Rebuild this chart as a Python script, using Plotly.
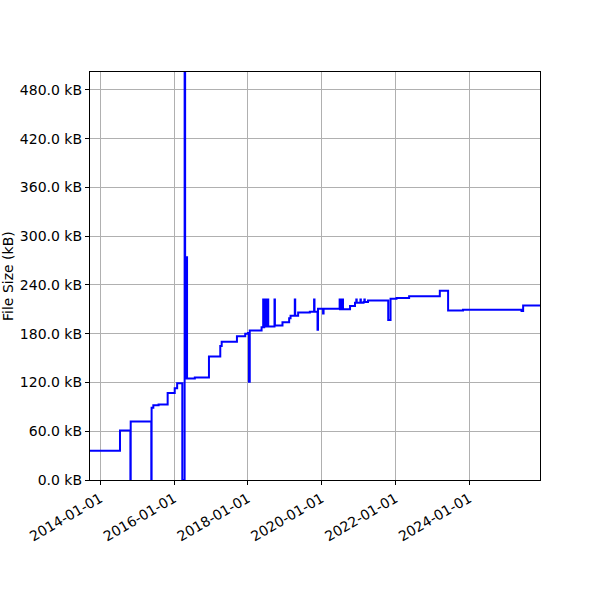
import plotly.graph_objects as go

dates = [
    "2013-09-21", "2014-07-15", "2014-10-26", "2014-10-29", "2015-05-21", "2015-05-24",
    "2015-06-10", "2015-08-01", "2015-10-30", "2016-01-08", "2016-02-01",
    "2016-03-23", "2016-04-15", "2016-04-20", "2016-05-05", "2016-05-09",
    "2016-07-25", "2016-12-12", "2017-04-03", "2017-04-17", "2017-09-15", "2017-12-06",
    "2018-01-02", "2018-01-12", "2018-01-20", "2018-05-17",
    "2018-06-02", "2018-06-05", "2018-06-12", "2018-06-15", "2018-06-22", "2018-06-25",
    "2018-07-02", "2018-07-05", "2018-07-12", "2018-07-15", "2018-07-19", "2018-07-22",
    "2018-09-22", "2018-09-26", "2018-12-10", "2019-02-14", "2019-02-28",
    "2019-04-11", "2019-04-15", "2019-05-14", "2019-09-07",
    "2019-10-19", "2019-10-23", "2019-11-22", "2019-11-27",
    "2020-01-16", "2020-01-21",
    "2020-06-28", "2020-07-02", "2020-07-08", "2020-07-12", "2020-07-18", "2020-07-31",
    "2020-10-09", "2020-11-27", "2020-12-10", "2020-12-14", "2021-01-20", "2021-01-24",
    "2021-02-20", "2021-02-28", "2021-03-04", "2021-04-05",
    "2021-10-22", "2021-11-14", "2022-01-12", "2022-05-17",
    "2023-03-17", "2023-06-07", "2023-11-02", "2025-06-03", "2025-06-19", "2025-12-03",
]
sizes_kb = [
    36, 61, 0, 72, 0, 89,
    92, 93, 107, 113, 119,
    0, 502, 125, 274, 125,
    126, 152, 165, 170, 177, 180,
    181, 121, 184, 188,
    222, 188, 222, 189, 222, 189,
    222, 189, 222, 189, 222, 189,
    222, 190, 194, 199, 202,
    222, 202, 206, 207,
    222, 207, 185, 210.6,
    205, 210.6,
    222, 210, 222, 210, 222, 210,
    214, 218, 222, 218, 222, 218,
    219, 222, 219, 221,
    197, 223, 224, 226,
    233, 208.6, 209.4, 208, 214.7, 214.7,
]

y_ticks = [0, 60, 120, 180, 240, 300, 360, 420, 480]
y_tick_labels = [f"{v:.1f} kB" for v in y_ticks]
x_ticks = ["2014-01-01", "2016-01-01", "2018-01-01", "2020-01-01", "2022-01-01", "2024-01-01"]

fig = go.Figure()
fig.add_trace(go.Scatter(
    x=dates, y=sizes_kb, mode="lines", line_shape="hv",
    line=dict(color="#0000ff", width=2), showlegend=False,
))

font = dict(family="DejaVu Sans", size=14, color="black")
axis_common = dict(
    showgrid=True, gridcolor="#b0b0b0", gridwidth=0.8,
    showline=True, linecolor="black", linewidth=1.2, mirror=True,
    ticks="outside", ticklen=4, tickcolor="black", tickfont=font, zeroline=False,
    automargin=False,
)
fig.update_layout(
    width=600, height=600,
    margin=dict(l=90, r=60, t=72, b=120),
    plot_bgcolor="white", paper_bgcolor="white",
    xaxis=dict(type="date", range=["2013-09-21", "2025-12-03"], tickvals=x_ticks,
               ticktext=x_ticks, tickangle=-30, **axis_common),
    yaxis=dict(range=[0, 502], tickvals=y_ticks, ticktext=y_tick_labels, **axis_common),
    annotations=[dict(text="File Size (kB)", xref="paper", yref="paper",
                      x=-82 / 450, y=0.5, xanchor="center", yanchor="middle",
                      textangle=-90, showarrow=False, font=font)],
)
fig.write_html("out.html", config={"displayModeBar": False},
               post_script="document.body.style.margin='0';")
